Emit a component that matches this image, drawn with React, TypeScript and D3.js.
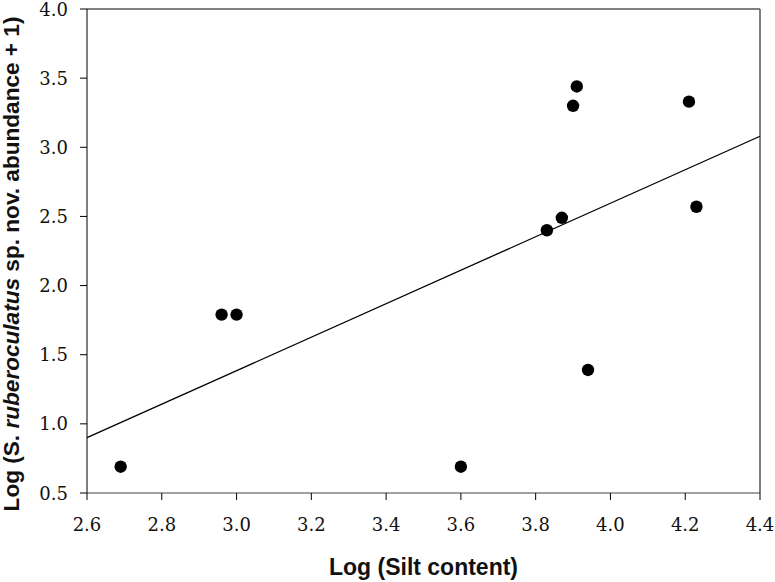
import React from "react";
import * as d3 from "d3";

const siltLog = [2.69, 2.96, 3.0, 3.6, 3.83, 3.87, 3.9, 3.91, 3.94, 4.21, 4.23];
const abundLog = [0.69, 1.79, 1.79, 0.69, 2.4, 2.49, 3.3, 3.44, 1.39, 3.33, 2.57];
const fitX = [2.6, 4.4];
const fitY = [0.9, 3.08];
const xTicks = [2.6, 2.8, 3.0, 3.2, 3.4, 3.6, 3.8, 4.0, 4.2, 4.4];
const yTicks = [0.5, 1.0, 1.5, 2.0, 2.5, 3.0, 3.5, 4.0];

const W = 775;
const H = 582;
const L = 87, R = 760, T = 9, B = 493;

export default function App() {
  const x = d3.scaleLinear().domain([2.6, 4.4]).range([L, R]);
  const y = d3.scaleLinear().domain([0.5, 4.0]).range([B, T]);
  const line = d3.line<number>().x((d) => x(fitX[d])).y((d) => y(fitY[d]));
  const serifFont = "'DejaVu Serif'";
  const sansFont = "Liberation Sans, Arial, sans-serif";
  return (
    <svg width={W} height={H} style={{ position: "absolute", left: 0, top: 0, background: "#fff" }}>
      <rect x={0} y={0} width={W} height={H} fill="#fff" />
      <line x1={L} y1={T} x2={R} y2={T} stroke="#000" strokeWidth={1} />
      <line x1={R} y1={T} x2={R} y2={B} stroke="#555" strokeWidth={1.5} />
      <line x1={L} y1={T} x2={L} y2={B} stroke="#000" strokeWidth={1} />
      <line x1={L} y1={B} x2={R} y2={B} stroke="#444" strokeWidth={1.2} />
      <g fill="#111">
        {yTicks.map((t) => (
          <g key={"y" + t}>
            <line x1={L - 7} x2={L} y1={y(t)} y2={y(t)} stroke="#000" />
            <text x={68} y={y(t) + 6.5} textAnchor="end" style={{ fontFamily: serifFont, fontSize: "18px" }}>
              {t.toFixed(1)}
            </text>
          </g>
        ))}
        {xTicks.map((t) => (
          <g key={"x" + t}>
            <line x1={x(t)} x2={x(t)} y1={B} y2={B + 7} stroke="#000" />
            <text x={x(t)} y={531} textAnchor="middle" style={{ fontFamily: serifFont, fontSize: "18px" }}>
              {t.toFixed(1)}
            </text>
          </g>
        ))}
      </g>
      <path d={line([0, 1]) || ""} stroke="#000" strokeWidth={1.3} fill="none" />
      {siltLog.map((v, i) => (
        <circle key={i} cx={x(v)} cy={y(abundLog[i])} r={6.2} fill="#000" />
      ))}
      <text x={(L + R) / 2} y={575} textAnchor="middle" fontFamily={sansFont} fontWeight="bold" fontSize={23} fill="#111">
        Log (Silt content)
      </text>
      <text
        transform={`translate(19, 264) rotate(-90)`}
        textAnchor="middle"
        fontFamily={sansFont}
        fontWeight="bold"
        fontSize={22.6}
        fill="#111"
      >
        Log (S. <tspan fontStyle="italic">ruberoculatus</tspan> sp. nov. abundance + 1)
      </text>
    </svg>
  );
}
